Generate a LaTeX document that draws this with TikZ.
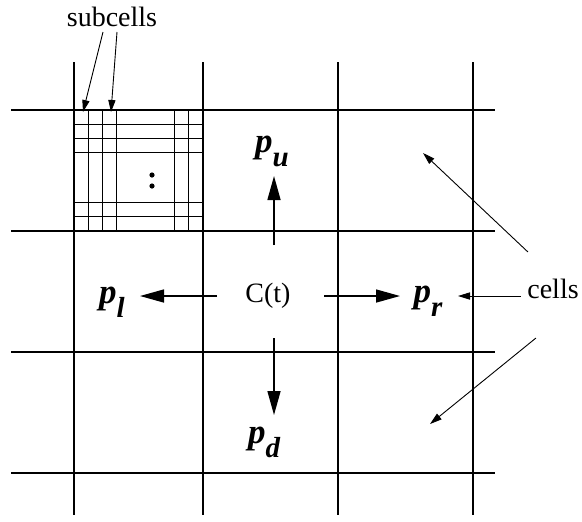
\documentclass[tikz,border=0pt]{standalone}
\usepackage{fontspec}
\setmainfont{Liberation Serif}
\usetikzlibrary{arrows.meta, calc}
\tikzset{
  gridline/.style={line width=0.75pt, draw=black},
  subline/.style={line width=0.5pt, draw=black},
  move/.style={-{Triangle[length=12pt, width=6.5pt]}, line width=0.75pt},
  pointer/.style={-{Triangle[length=6pt, width=3.6pt]}, line width=0.45pt},
  lbl/.style={font=\fontsize{14}{16}\selectfont, inner sep=0pt},
  dir/.style={font=\fontsize{17.5}{19}\selectfont\bfseries\itshape, inner sep=0pt},
}
\newcommand{\pdir}[1]{p\raisebox{-0.42em}{\fontsize{14.5}{15}\selectfont #1}}
\def\subw{14.3}

\begin{document}
\begin{tikzpicture}[x=0.5pt, y=-0.5pt]
\useasboundingbox (0,0) rectangle (582,521);

% Cell grid
\foreach \x in {74,203,338,473}
  \draw[gridline] (\x,62) -- (\x,515);
\foreach \y in {110,231,352,473}
  \draw[gridline] (11,\y) -- (495,\y);

% Subcells of the top left cell, first rows and columns from the top left,
% last ones from the bottom right
\foreach \k in {1,2,3} {
  \draw[subline] (74+\k*\subw,110) -- (74+\k*\subw,231);
  \draw[subline] (74,110+\k*\subw) -- (203,110+\k*\subw);
}
\foreach \k in {1,2} {
  \draw[subline] (203-\k*\subw,110) -- (203-\k*\subw,231);
  \draw[subline] (74,231-\k*\subw) -- (203,231-\k*\subw);
}
\fill (152,175) circle[radius=1.3pt];
\fill (152,186) circle[radius=1.3pt];

% Labels
\node[lbl, anchor=base] (subcells) at (112,26) {subcells};
\node[lbl, anchor=base] (cells) at (553,298) {cells};
\node[lbl] (ct) at (268,296) {C(t)};

% Neighbour positions
\node[dir, anchor=base] (pu) at (272,152) {\pdir{u}};
\node[dir, anchor=base] (pd) at (264,443) {\pdir{d}};
\node[dir, anchor=base] (pl) at (112,303) {\pdir{l}};
\node[dir, anchor=base] (pr) at (428,302) {\pdir{r}};

% Arrow tips
\coordinate (tipu) at (274,176);
\coordinate (tipd) at (274,415);
\coordinate (tipl) at (140,296);
\coordinate (tipr) at (400,296);
\coordinate (subtipa) at (83,112);
\coordinate (subtipb) at (111,112);
\coordinate (celltipa) at (423,153);
\coordinate (celltipb) at (458,296);
\coordinate (celltipc) at (430,424);

% Moves out of C(t)
\draw[move] ($(ct)+(6,-51)$) -- (tipu);
\draw[move] ($(ct)+(6,42)$) -- (tipd);
\draw[move] ($(ct)+(-51,0)$) -- (tipl);
\draw[move] ($(ct)+(56,0)$) -- (tipr);

% Pointers from the labels
\draw[pointer] ($(subcells.base)+(-9,6)$) -- (subtipa);
\draw[pointer] ($(subcells.base)+(5,6)$) -- (subtipb);
\draw[pointer] ($(cells.base west)+(1,-46)$) -- (celltipa);
\draw[pointer] ($(cells.base west)+(-6,-2)$) -- (celltipb);
\draw[pointer] ($(cells.base west)+(9,40)$) -- (celltipc);

\end{tikzpicture}
\end{document}
